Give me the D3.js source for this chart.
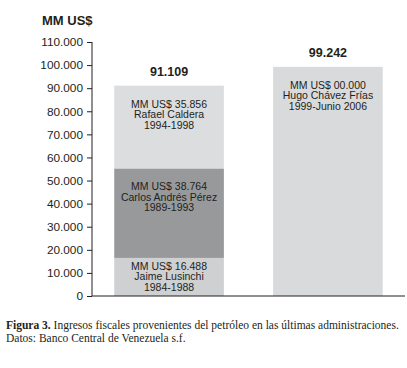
<html>
<head>
<meta charset="utf-8">
<script src="https://d3js.org/d3.v7.min.js"></script>
<style>
  body { margin: 0; background: #fff; }
  text { font-family: "Liberation Sans", Arial, sans-serif; fill: #231f20; }
  .caption text { font-family: "Liberation Serif", "Times New Roman", serif; }
</style>
</head>
<body>
<svg id="chart" width="407" height="368"></svg>
<script>
// data
const periods = ["1984-1998", "1999-2006"];
const totals = ["91.109", "99.242"];
// stacked segments, bottom to top
const segValues = [16488, 38764, 35856, 99242];
const segBar = [0, 0, 0, 1];
const segLines = [
  ["MM US$ 16.488", "Jaime Lusinchi", "1984-1988"],
  ["MM US$ 38.764", "Carlos Andrés Pérez", "1989-1993"],
  ["MM US$ 35.856", "Rafael Caldera", "1994-1998"],
  ["MM US$ 00.000", "Hugo Chávez Frías", "1999-Junio 2006"]
];
const segColors = ["#cfd0d2", "#98999b", "#dcdddf", "#d9dadc"];
const yTicks = [0, 10000, 20000, 30000, 40000, 50000, 60000, 70000, 80000, 90000, 100000, 110000];

const svg = d3.select("#chart");
const locale = d3.formatLocale({decimal: ",", thousands: ".", grouping: [3], currency: ["", ""]});
const fmt = locale.format(",d");

const x = d3.scaleBand()
  .domain(periods)
  .range([92, 405])
  .paddingInner(0.31)
  .paddingOuter(0.14);

const y = d3.scaleLinear()
  .domain([0, 110000])
  .range([296, 42]);

// stack
const segs = [];
const acc = {};
segValues.forEach((v, i) => {
  const b = periods[segBar[i]];
  const y0 = acc[b] || 0;
  segs.push({bar: b, y0: y0, y1: y0 + v, lines: segLines[i], color: segColors[i]});
  acc[b] = y0 + v;
});

svg.append("g").selectAll("rect")
  .data(segs)
  .join("rect")
  .attr("x", d => x(d.bar))
  .attr("width", x.bandwidth())
  .attr("y", d => y(d.y1))
  .attr("height", d => y(d.y0) - y(d.y1))
  .attr("fill", d => d.color);

const lh = 10.5;
const labels = svg.append("g").selectAll("text")
  .data(segs)
  .join("text")
  .attr("text-anchor", "middle")
  .attr("font-size", 10.5)
  .attr("x", d => x(d.bar) + x.bandwidth() / 2)
  .attr("y", d => {
    const h = y(d.y0) - y(d.y1);
    return y(d.y1) + Math.min(22, (h - 2 * lh) / 2 + 3.5);
  });
labels.selectAll("tspan")
  .data(d => d.lines.map(l => ({l: l, d: d})))
  .join("tspan")
  .attr("x", o => x(o.d.bar) + x.bandwidth() / 2)
  .attr("dy", (o, i) => i === 0 ? 0 : lh)
  .text(o => o.l);

// totals
svg.append("g").selectAll("text")
  .data(periods)
  .join("text")
  .attr("text-anchor", "middle")
  .attr("font-weight", "bold")
  .attr("font-size", 12.5)
  .attr("x", d => x(d) + x.bandwidth() / 2)
  .attr("y", d => y(acc[d]) - 10)
  .text((d, i) => totals[i]);

// y axis
const yAxis = d3.axisLeft(y)
  .tickValues(yTicks)
  .tickFormat(d => d === 0 ? "0" : fmt(d))
  .tickSize(5)
  .tickPadding(4);
const ag = svg.append("g")
  .attr("transform", "translate(92,0)")
  .call(yAxis);
ag.select(".domain").attr("d", "M0," + y(110000) + "V" + y(0)).attr("stroke", "#231f20");
ag.selectAll(".tick line").attr("stroke", "#231f20");
ag.selectAll(".tick text")
  .attr("font-size", 11.8)
  .attr("font-family", "'Liberation Sans', Arial, sans-serif")
  .attr("fill", "#231f20");

// baseline
svg.append("line")
  .attr("x1", 92).attr("x2", 405)
  .attr("y1", y(0)).attr("y2", y(0))
  .attr("stroke", "#231f20");

// unit title
svg.append("text")
  .attr("x", 42).attr("y", 25)
  .attr("font-weight", "bold")
  .attr("font-size", 13)
  .text("MM US$");

// caption
const cap = svg.append("g").attr("class", "caption");
const c1 = cap.append("text").attr("x", 6).attr("y", 329).attr("font-size", 11.5);
c1.append("tspan").attr("font-weight", "bold").text("Figura 3.");
c1.append("tspan").text(" Ingresos fiscales provenientes del petróleo en las últimas administraciones.");
cap.append("text").attr("x", 6).attr("y", 342).attr("font-size", 11.5)
  .text("Datos: Banco Central de Venezuela s.f.");
</script>
</body>
</html>
